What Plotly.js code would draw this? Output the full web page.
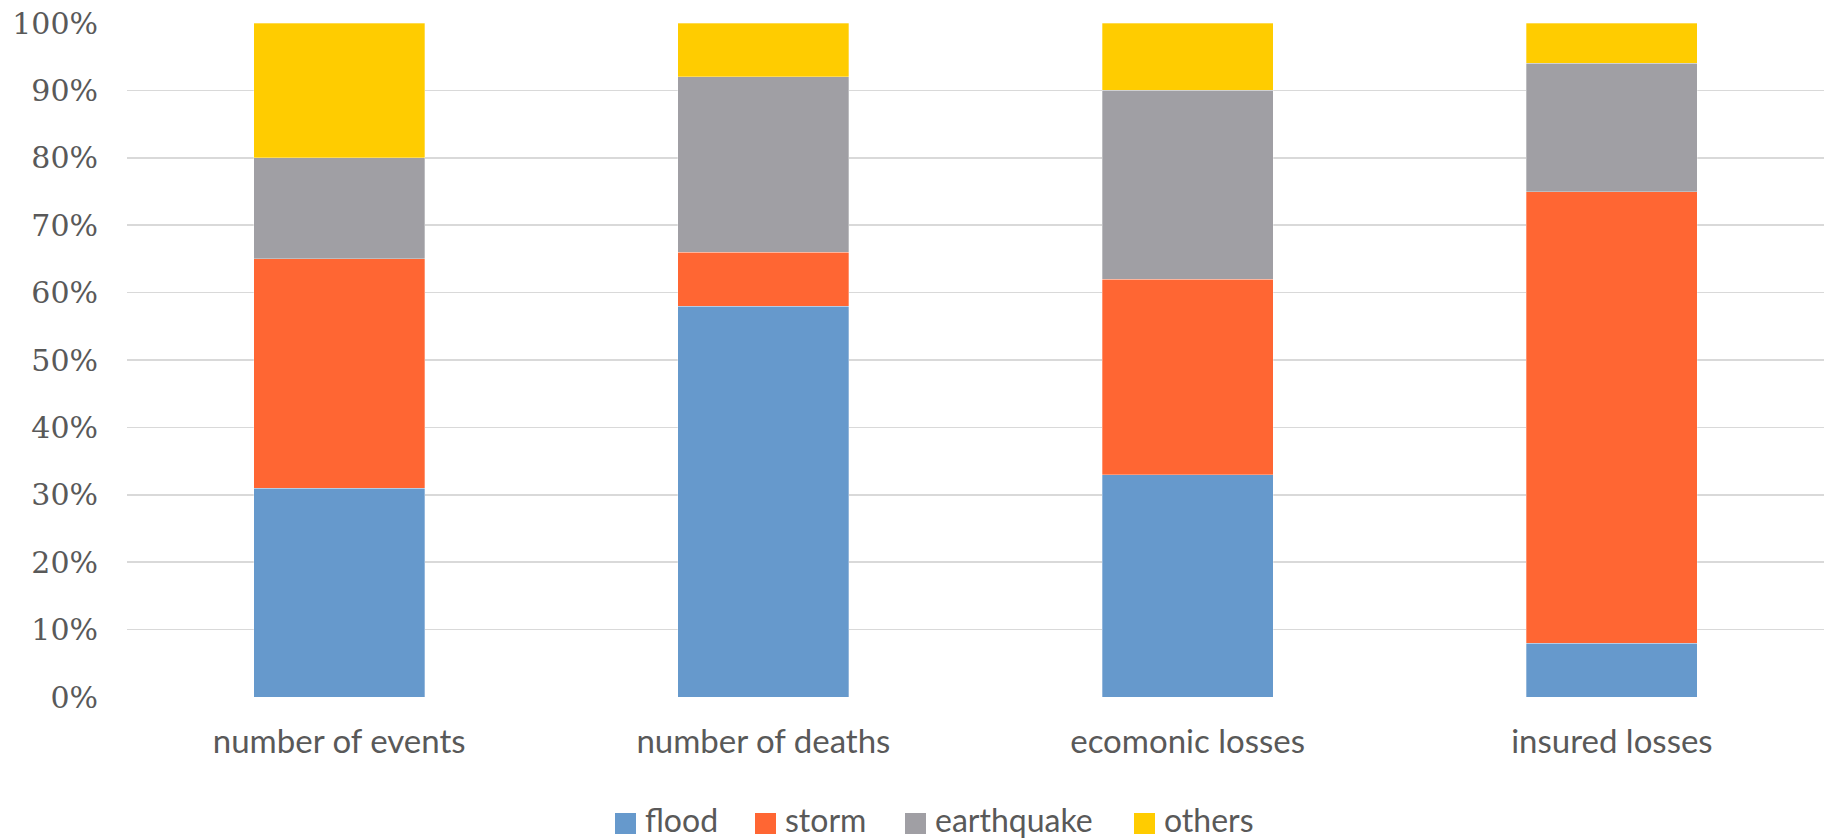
<!DOCTYPE html>
<html>
<head>
<meta charset="utf-8">
<script src="https://cdn.plot.ly/plotly-3.0.1.min.js"></script>
<style>html,body{margin:0;padding:0;background:#fff;}#chart{width:1832px;height:840px;}</style>
</head>
<body>
<div id="chart"></div>
<script>
var categories = ["number of events", "number of deaths", "ecomonic losses", "insured losses"];
var flood = [31, 58, 33, 8];
var storm = [34, 8, 29, 67];
var earthquake = [15, 26, 28, 19];
var others = [20, 8, 10, 6];
var seriesNames = ["flood", "storm", "earthquake", "others"];
var seriesColors = ["#6699CC", "#FF6633", "#A09FA4", "#FFCC00"];
var yTickVals = [0, 10, 20, 30, 40, 50, 60, 70, 80, 90, 100];
var yTickText = ["0%", "10%", "20%", "30%", "40%", "50%", "60%", "70%", "80%", "90%", "100%"];

var W = 1832, H = 840;
var M = { l: 127, r: 8, t: 23, b: 143 };
var plotW = W - M.l - M.r, plotH = H - M.t - M.b;
function pxX(px) { return (px - M.l) / plotW; }
function pxY(py) { return (H - M.b - py) / plotH; }

var values = [flood, storm, earthquake, others];
var traces = values.map(function (v, i) {
  return {
    type: "bar",
    name: seriesNames[i],
    x: categories,
    y: v,
    marker: { color: seriesColors[i], line: { width: 0.6, color: "rgba(255,255,255,0.5)" } },
    hoverinfo: "x+y+name",
    showlegend: false
  };
});

// custom legend (square swatch + label), laid out like the original
var legendLeft = [615, 755, 905, 1134];
var swatchW = 21, swatchTop = 813, swatchBottom = 834, legendMid = 819;
var shapes = [], annotations = [];
seriesNames.forEach(function (n, i) {
  shapes.push({
    type: "rect", xref: "paper", yref: "paper",
    x0: pxX(legendLeft[i]), x1: pxX(legendLeft[i] + swatchW),
    y0: pxY(swatchBottom), y1: pxY(swatchTop),
    fillcolor: seriesColors[i], line: { width: 0 }
  });
  annotations.push({
    xref: "paper", yref: "paper",
    x: pxX(legendLeft[i] + swatchW + 8), y: pxY(legendMid),
    xanchor: "left", yanchor: "middle", showarrow: false,
    borderpad: 0,
    text: n,
    font: { family: "Lato, sans-serif", size: 32, color: "#595959" }
  });
});

var layout = {
  width: W,
  height: H,
  barmode: "stack",
  bargap: 0.597,
  paper_bgcolor: "#fff",
  plot_bgcolor: "#fff",
  margin: { l: M.l, r: M.r, t: M.t, b: M.b, pad: 0, autoexpand: false },
  showlegend: false,
  shapes: shapes,
  annotations: annotations,
  xaxis: {
    type: "category",
    automargin: false,
    showgrid: false,
    showline: false,
    zeroline: false,
    ticks: "",
    tickfont: { family: "Lato, sans-serif", size: 33, color: "#595959" },
    ticklabelstandoff: 22
  },
  yaxis: {
    range: [0, 100],
    automargin: false,
    tickvals: yTickVals,
    ticktext: yTickText,
    showgrid: true,
    gridcolor: "#D9D9D9",
    gridwidth: 1.5,
    zeroline: false,
    showline: false,
    ticks: "",
    tickfont: { family: "'DejaVu Serif', serif", size: 30, color: "#595959" },
    ticklabelstandoff: 28
  }
};

Plotly.newPlot("chart", traces, layout, { displayModeBar: false, staticPlot: true });
</script>
</body>
</html>
